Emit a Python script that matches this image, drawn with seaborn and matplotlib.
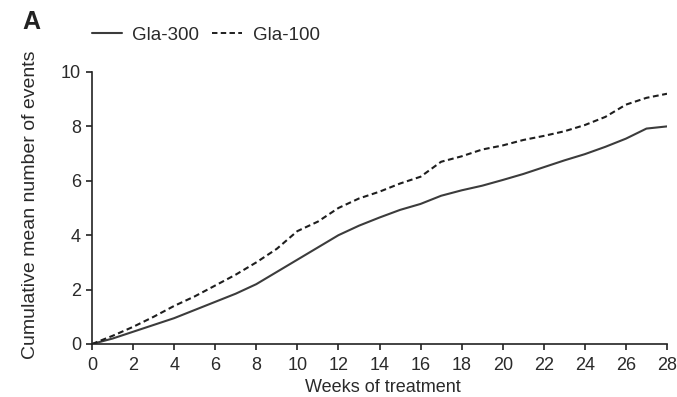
import numpy as np
import pandas as pd
import matplotlib
matplotlib.use("Agg")
import matplotlib.pyplot as plt
import seaborn as sns
from matplotlib.lines import Line2D

weeks = [0, 1, 2, 3, 4, 5, 6, 7, 8, 9, 10, 11, 12, 13, 14, 15, 16, 17, 18, 19, 20,
         21, 22, 23, 24, 25, 26, 27, 28]
gla300 = [0.0, 0.2, 0.45, 0.7, 0.95, 1.25, 1.55, 1.85, 2.2, 2.65, 3.1, 3.55, 4.0, 4.35,
          4.65, 4.93, 5.15, 5.45, 5.65, 5.82, 6.03, 6.25, 6.5, 6.75, 6.98, 7.25, 7.55,
          7.92, 8.0]
gla100 = [0.0, 0.3, 0.63, 1.0, 1.4, 1.75, 2.15, 2.55, 3.0, 3.5, 4.15, 4.5, 5.0, 5.35,
          5.6, 5.9, 6.15, 6.7, 6.9, 7.15, 7.3, 7.5, 7.65, 7.82, 8.05, 8.35, 8.8, 9.05, 9.2]
series_names = ["Gla-300", "Gla-100"]
xticks = list(range(0, 29, 2))
yticks = [0, 2, 4, 6, 8, 10]

df = pd.DataFrame({
    "week": weeks * 2,
    "value": gla300 + gla100,
    "treatment": [series_names[0]] * len(weeks) + [series_names[1]] * len(weeks),
})

sns.set_style("ticks")
plt.rcParams["font.family"] = ["Liberation Sans", "DejaVu Sans"]

fig = plt.figure(figsize=(6.77, 3.97), dpi=100)
ax = fig.add_axes([92 / 677, 53 / 397, 575 / 677, 272 / 397])

text_col = "#2a2a2a"
solid_col = "#3c3c3c"
dash_col = "#1e1e1e"
dash_pat = (2.8, 1.7)
sns.lineplot(data=df, x="week", y="value", hue="treatment", style="treatment",
             palette={series_names[0]: solid_col, series_names[1]: dash_col},
             dashes={series_names[0]: "", series_names[1]: dash_pat},
             linewidth=1.5, ax=ax, legend=False)

ax.set_xlim(0, 28)
ax.set_ylim(0, 10)
ax.set_xticks(xticks)
ax.set_yticks(yticks)
ax.tick_params(axis="both", direction="out", length=4.5, width=1.2, colors="#222222",
               labelsize=13, labelcolor=text_col)
ax.tick_params(axis="x", pad=4.5)
ax.tick_params(axis="y", pad=3.5)
for s in ["top", "right"]:
    ax.spines[s].set_visible(False)
for s in ["left", "bottom"]:
    ax.spines[s].set_linewidth(1.2)
    ax.spines[s].set_color("#222222")

ax.set_xlabel("Weeks of treatment", fontsize=13, color=text_col)
ax.xaxis.set_label_coords(0.506, -0.13)
ax.set_ylabel("Cumulative mean number of events", fontsize=14, color=text_col)
ax.yaxis.set_label_coords(-0.092, 0.511)

handles = [Line2D([], [], color=solid_col, lw=1.5, ls="-"),
           Line2D([], [], color=dash_col, lw=1.4, ls=(0, dash_pat))]
fig.legend(handles, series_names, loc="center left",
           bbox_to_anchor=(92 / 677, 1 - 35 / 397),
           ncol=2, frameon=False, fontsize=13.5, handlelength=1.6, handletextpad=0.55,
           columnspacing=0.7, labelcolor=text_col, borderpad=0, borderaxespad=0)

fig.text(22 / 677, 1 - 22 / 397, "A", fontsize=18, fontweight="bold", color="#222222",
         ha="left", va="center")

fig.savefig("out.png", dpi=100)
